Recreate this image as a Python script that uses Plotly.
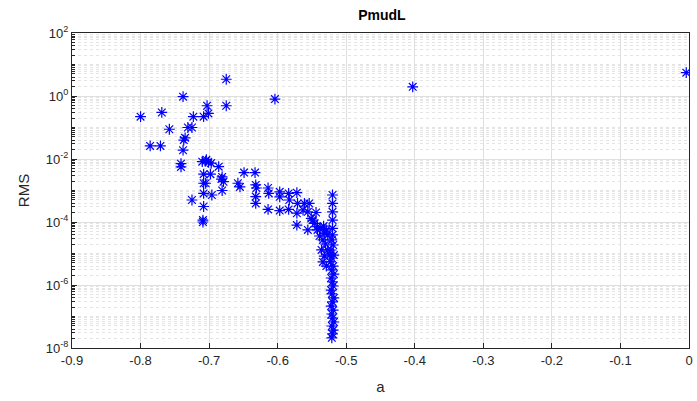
import plotly.graph_objects as go

a_vals = [
    -0.675, -0.738, -0.703, -0.675, -0.800, -0.769, -0.723, -0.708, -0.701,
    -0.758, -0.731, -0.725, -0.735, -0.737, -0.786, -0.771, -0.738, -0.741,
    -0.741, -0.704, -0.710, -0.705, -0.701, -0.697, -0.686, -0.649, -0.633,
    -0.708, -0.698, -0.708, -0.705, -0.681, -0.682, -0.679, -0.681, -0.696,
    -0.708, -0.725, -0.708, -0.709, -0.709, -0.658, -0.655, -0.632, -0.631,
    -0.632, -0.632, -0.614, -0.613, -0.614, -0.597, -0.597, -0.597, -0.584,
    -0.583, -0.584, -0.572, -0.571, -0.572, -0.572, -0.561, -0.554, -0.563,
    -0.556, -0.544, -0.551, -0.556, -0.546, -0.542, -0.537, -0.532, -0.527,
    -0.520, -0.520, -0.520, -0.520, -0.520, -0.520, -0.604, -0.403, -0.004,
    -0.549, -0.542, -0.539, -0.534, -0.530, -0.527, -0.524, -0.533, -0.529,
    -0.534, -0.532, -0.536, -0.529,
    -0.521, -0.519, -0.522, -0.518, -0.521, -0.523, -0.519, -0.521, -0.518,
    -0.522, -0.520, -0.519, -0.522, -0.521, -0.518, -0.520, -0.522, -0.519,
    -0.521, -0.520, -0.518, -0.521, -0.519, -0.520, -0.521,
]
rms_vals = [
    3.4, 0.95, 0.49, 0.49, 0.22, 0.30, 0.22, 0.22, 0.28,
    0.088, 0.10, 0.10, 0.047, 0.040, 0.026, 0.026, 0.019, 0.0071,
    0.0056, 0.0095, 0.0082, 0.0086, 0.0078, 0.0074, 0.0057, 0.0037, 0.0037,
    0.0033, 0.0033, 0.0017, 0.0017, 0.0027, 0.0023, 0.0019, 0.0010, 0.00072,
    0.00081, 0.0005, 0.00031, 0.000115, 0.0001, 0.0017, 0.0013, 0.0015, 0.0012,
    0.00064, 0.00039, 0.0012, 0.00081, 0.00025, 0.00091, 0.00063, 0.00023, 0.00081,
    0.0005, 0.00025, 0.00085, 0.00039, 0.00019, 0.00008, 0.00039, 0.00039, 0.00024,
    0.00021, 0.0002, 0.00013, 0.000056, 0.000091, 0.000071, 0.000063, 0.000044, 0.000039,
    0.00072, 0.00039, 0.00021, 0.000115, 0.000063, 0.000039, 0.80, 1.95, 5.5,
    0.000115, 0.000056, 0.000036, 0.000027, 0.00002, 0.000013, 0.0000089, 0.000074, 0.000056,
    0.0000054, 0.0000083, 0.000013, 0.000004,
    2.7e-5, 1.86e-5, 1.29e-5, 8.9e-6, 7.2e-6, 5.4e-6, 4.0e-6, 3.0e-6, 2.2e-6,
    1.67e-6, 1.25e-6, 9.3e-7, 6.9e-7, 5.2e-7, 3.9e-7, 2.9e-7, 2.15e-7, 1.6e-7,
    1.2e-7, 8.9e-8, 6.7e-8, 5.0e-8, 3.7e-8, 2.8e-8, 2.1e-8,
]

x_ticks = [-0.9, -0.8, -0.7, -0.6, -0.5, -0.4, -0.3, -0.2, -0.1, 0]
x_ticklabels = ["-0.9", "-0.8", "-0.7", "-0.6", "-0.5", "-0.4", "-0.3", "-0.2", "-0.1", "0"]
y_ticks = [1e-8, 1e-6, 1e-4, 1e-2, 1e0, 1e2]
y_ticklabels = ["10<sup>-8</sup>", "10<sup>-6</sup>", "10<sup>-4</sup>",
                "10<sup>-2</sup>", "10<sup>0</sup>", "10<sup>2</sup>"]

font_family = "Liberation Sans, Arial, sans-serif"
axis_color = "#262626"
grid_color = "#dfdfdf"

fig = go.Figure()
fig.add_trace(go.Scatter(
    x=a_vals, y=rms_vals, mode="markers",
    marker=dict(symbol="asterisk-open", size=9,
                line=dict(color="#0000ff", width=1.2), color="#0000ff"),
    showlegend=False,
))

fig.update_layout(
    width=697, height=401,
    margin=dict(l=72, r=4, t=33, b=53),
    paper_bgcolor="white", plot_bgcolor="white",
    font=dict(family=font_family, size=13, color=axis_color),
    title=dict(text="<b>PmudL</b>", x=0.548, xanchor="center", y=0.975, yanchor="top",
               font=dict(family=font_family, size=14, color="black")),
    xaxis=dict(
        range=[-0.9, 0], tickvals=x_ticks, ticktext=x_ticklabels,
        showline=True, linecolor=axis_color, linewidth=1, mirror=True,
        ticks="inside", ticklen=5, tickcolor=axis_color,
        showgrid=True, gridcolor=grid_color, gridwidth=1, zeroline=False,
        title=dict(text="a", font=dict(size=15, color=axis_color), standoff=14),
    ),
    yaxis=dict(
        type="log", range=[-8, 2], tickvals=y_ticks, ticktext=y_ticklabels,
        showline=True, linecolor=axis_color, linewidth=1, mirror=True,
        ticks="inside", ticklen=5, tickcolor=axis_color,
        showgrid=True, gridcolor=grid_color, gridwidth=1, zeroline=False,
        minor=dict(dtick="D1", showgrid=True, gridcolor="#e4e4e4", griddash="dot",
                   ticks="inside", ticklen=3, tickcolor=axis_color),
        title=dict(text="RMS", font=dict(size=15, color=axis_color), standoff=12),
    ),
)

fig.write_html("out.html")
